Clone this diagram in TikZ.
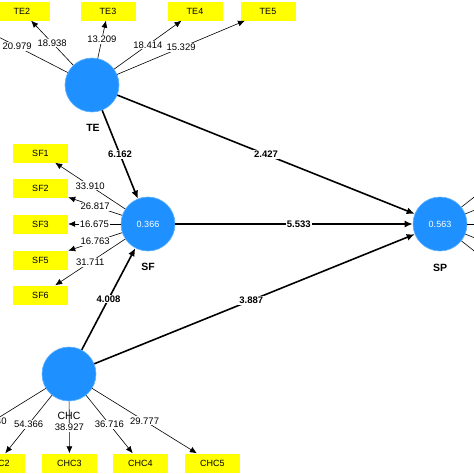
\documentclass[tikz,border=0pt]{standalone}
\usepackage{fontspec}
\setmainfont{Liberation Sans}
\usetikzlibrary{arrows.meta}
\definecolor{lvblue}{RGB}{30,144,255}
\definecolor{lvedge}{RGB}{95,178,255}
\definecolor{indyel}{RGB}{255,255,0}
\begin{document}
\begin{tikzpicture}[x=1pt,y=-1pt,
  latent/.style={circle,fill=lvblue,draw=lvedge,line width=0.6pt,minimum size=54pt,inner sep=0pt,text=white,font=\fontsize{9}{10}\selectfont},
  ind/.style={rectangle,fill=indyel,minimum width=55pt,minimum height=19pt,inner sep=0pt,font=\fontsize{9}{10}\selectfont},
  meas/.style={line width=0.6pt,-{Latex[length=7pt,width=6pt]}},
  struct/.style={line width=1.6pt,-{Latex[length=8pt,width=7pt]}},
  lbl/.style={fill=white,inner sep=1pt,font=\fontsize{9.5}{10}\selectfont},
  plbl/.style={fill=white,inner sep=1pt,font=\bfseries\fontsize{9.5}{10}\selectfont},
  cname/.style={font=\bfseries\fontsize{10.5}{12}\selectfont},
  cnamereg/.style={font=\fontsize{10.5}{12}\selectfont}]
\clip (0,0) rectangle (474,474);
\fill[white] (0,0) rectangle (474,474);

% latent variables
\node[latent] (TE) at (92,85) {};
\node[latent] (SF) at (148,224) {0.366};
\node[latent] (SP) at (440,224) {0.563};
\node[latent] (CHC) at (69,374) {};

% indicators
\node[ind] (TE2) at (22,11) {TE2};
\node[ind] (TE3) at (108,11) {TE3};
\node[ind] (TE4) at (195,11) {TE4};
\node[ind] (TE5) at (268,11) {TE5};
\node[ind] (SF1) at (40.5,153) {SF1};
\node[ind] (SF2) at (40.5,188) {SF2};
\node[ind] (SF3) at (40.5,224) {SF3};
\node[ind] (SF5) at (40.5,260) {SF5};
\node[ind] (SF6) at (40.5,295) {SF6};
\node[ind] (CHC2) at (-2.5,463) {CHC2};
\node[ind] (CHC3) at (69.5,463) {CHC3};
\node[ind] (CHC4) at (140.5,463) {CHC4};
\node[ind] (CHC5) at (212.5,463) {CHC5};

% off-picture ends
\coordinate (te1) at (-33.5,20.5);
\coordinate (chc1) at (-59.2,453.5);
\coordinate (sp1) at (530,153);
\coordinate (sp2) at (530,188);
\coordinate (sp3) at (530,224);
\coordinate (sp4) at (530,260);
\coordinate (sp5) at (530,295);

% TE loadings
\draw[meas] (TE) -- node[lbl,pos=0.5]{20.979} (te1);
\draw[meas] (TE) -- node[lbl,pos=0.5]{18.938} (TE2);
\draw[meas] (TE) -- node[lbl,pos=0.5]{13.209} (TE3);
\draw[meas] (TE) -- node[lbl,pos=0.5]{18.414} (TE4);
\draw[meas] (TE) -- node[lbl,pos=0.5]{15.329} (TE5);

% SF loadings
\draw[meas] (SF) -- node[lbl,pos=0.5]{33.910} (SF1);
\draw[meas] (SF) -- node[lbl,pos=0.5]{26.817} (SF2);
\draw[meas] (SF) -- node[lbl,pos=0.5]{16.675} (SF3);
\draw[meas] (SF) -- node[lbl,pos=0.5]{16.763} (SF5);
\draw[meas] (SF) -- node[lbl,pos=0.5]{31.711} (SF6);

% SP loadings (leave the picture)
\draw[meas] (SP) -- (sp1);
\draw[meas] (SP) -- (sp2);
\draw[meas] (SP) -- (sp3);
\draw[meas] (SP) -- (sp4);
\draw[meas] (SP) -- (sp5);

% CHC loadings
\draw[meas] (CHC) -- node[lbl,pos=0.5,anchor=east,xshift=14.6pt]{40} (chc1);
\draw[meas] (CHC) -- node[lbl,pos=0.5]{54.366} (CHC2);
\draw[meas] (CHC) -- node[lbl,pos=0.5]{38.927} (CHC3);
\draw[meas] (CHC) -- node[lbl,pos=0.5]{36.716} (CHC4);
\draw[meas] (CHC) -- node[lbl,pos=0.5]{29.777} (CHC5);

% structural paths
\draw[struct] (TE) -- node[plbl,pos=0.5]{2.427} (SP);
\draw[struct] (TE) -- node[plbl,pos=0.5]{6.162} (SF);
\draw[struct] (SF) -- node[plbl,pos=0.52]{5.533} (SP);
\draw[struct] (CHC) -- node[plbl,pos=0.5]{4.008} (SF);
\draw[struct] (CHC) -- node[plbl,pos=0.49]{3.887} (SP);

% names
\node[cname] (TElab) at (93,128) {TE};
\node[cname] (SFlab) at (148,267) {SF};
\node[cname] (SPlab) at (440,268) {SP};
\node[cnamereg] (CHClab) at (69,416) {CHC};
\end{tikzpicture}
\end{document}
